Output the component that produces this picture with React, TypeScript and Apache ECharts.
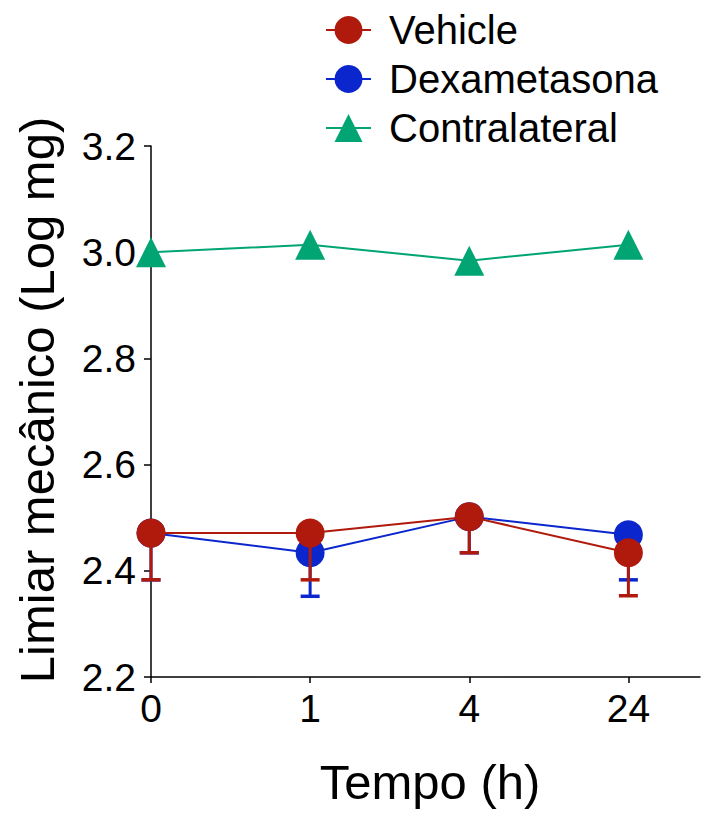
import React, { useEffect, useRef } from "react";
import * as echarts from "echarts";

// Time points (h) shown on the x axis
const timeLabels = ["0", "1", "4", "24"];

// Mechanical threshold, log mg (mean and lower end of error bar)
const vehicleMean = [2.471, 2.471, 2.502, 2.434];
const vehicleLower = [2.383, 2.383, 2.434, 2.353];
const dexaMean = [2.471, 2.434, 2.502, 2.468];
const dexaLower = [2.383, 2.352, 2.434, 2.383];
const contraMean = [3.0, 3.014, 2.984, 3.014];

const yTicks = [2.2, 2.4, 2.6, 2.8, 3.0, 3.2];

const RED = "#B01A0C";
const BLUE = "#0A26CC";
const GREEN = "#00A573";
const FONT = "'Liberation Sans', Arial, Helvetica, sans-serif";

const toPoints = (vals: number[]) => vals.map((v, i) => [i, v]);
const toBars = (mean: number[], lower: number[]) =>
  mean.map((m, i) => [i, m, lower[i]]);

function errorBarSeries(name: string, data: number[][], color: string, z: number) {
  return {
    name,
    type: "custom",
    z,
    silent: true,
    data,
    encode: { x: 0, y: [1, 2] },
    renderItem: (_params: any, api: any) => {
      const x = api.value(0);
      const top = api.coord([x, api.value(1)]);
      const low = api.coord([x, api.value(2)]);
      const hw = 9.5;
      return {
        type: "group",
        children: [
          {
            type: "line",
            shape: { x1: top[0], y1: top[1], x2: low[0], y2: low[1] },
            style: { stroke: color, lineWidth: 3 },
          },
          {
            type: "line",
            shape: { x1: low[0] - hw, y1: low[1], x2: low[0] + hw, y2: low[1] },
            style: { stroke: color, lineWidth: 3.5 },
          },
        ],
      };
    },
  };
}

export default function App() {
  const ref = useRef<HTMLDivElement>(null);

  useEffect(() => {
    if (!ref.current) return;
    const chart = echarts.init(ref.current, undefined, { renderer: "svg" });

    chart.setOption({
      animation: false,
      backgroundColor: "#ffffff",
      textStyle: { fontFamily: FONT },
      grid: {
        left: 151,
        top: 146,
        right: 1,
        bottom: 137,
        containLabel: false,
        outerBoundsMode: "none",
      },
      legend: {
        orient: "vertical",
        left: 320,
        top: 5,
        itemWidth: 45,
        itemHeight: 35,
        itemGap: 9,
        data: ["Vehicle", "Dexametasona", "Contralateral"],
        textStyle: {
          fontFamily: FONT,
          fontSize: 40,
          color: "#000",
          padding: [0, 0, 0, 13],
        },
      },
      xAxis: {
        type: "value",
        min: 0,
        max: 3.45,
        interval: 1,
        splitLine: { show: false },
        axisLine: { lineStyle: { color: "#000", width: 1.5 } },
        axisTick: {
          show: true,
          length: 6,
          customValues: [0, 1, 2, 3],
          lineStyle: { color: "#000", width: 1.5 },
        },
        axisLabel: {
          customValues: [0, 1, 2, 3],
          fontFamily: FONT,
          fontSize: 39,
          color: "#000",
          margin: 12,
          formatter: (v: number) => timeLabels[Math.round(v)] ?? "",
        },
      },
      yAxis: {
        type: "value",
        min: 2.2,
        max: 3.2,
        interval: 0.2,
        splitLine: { show: false },
        axisLine: { show: true, lineStyle: { color: "#000", width: 1.5 } },
        axisTick: {
          show: true,
          length: 7,
          customValues: yTicks,
          lineStyle: { color: "#000", width: 1.5 },
        },
        axisLabel: {
          customValues: yTicks,
          fontFamily: FONT,
          fontSize: 39,
          color: "#000",
          margin: 15,
          formatter: (v: number) => v.toFixed(1),
        },
      },
      graphic: [
        {
          type: "text",
          x: 37,
          y: 400,
          rotation: Math.PI / 2,
          style: {
            text: "Limiar mecânico (Log mg)",
            fontFamily: FONT,
            fontSize: 49,
            fill: "#000",
            textAlign: "center",
            textVerticalAlign: "middle",
          },
        },
        {
          type: "text",
          x: 430,
          y: 782,
          style: {
            text: "Tempo (h)",
            fontFamily: FONT,
            fontSize: 49,
            fill: "#000",
            textAlign: "center",
            textVerticalAlign: "middle",
          },
        },
      ],
      series: [
        errorBarSeries("Dexametasona SEM", toBars(dexaMean, dexaLower), BLUE, 1),
        {
          name: "Dexametasona",
          type: "line",
          z: 2,
          data: toPoints(dexaMean),
          symbol: "circle",
          symbolSize: 29,
          color: BLUE,
          itemStyle: { color: BLUE },
          lineStyle: { color: BLUE, width: 2 },
        },
        errorBarSeries("Vehicle SEM", toBars(vehicleMean, vehicleLower), RED, 3),
        {
          name: "Vehicle",
          type: "line",
          z: 4,
          data: toPoints(vehicleMean),
          symbol: "circle",
          symbolSize: 29,
          color: RED,
          itemStyle: { color: RED },
          lineStyle: { color: RED, width: 2 },
        },
        {
          name: "Contralateral",
          type: "line",
          z: 5,
          data: toPoints(contraMean),
          symbol: "triangle",
          symbolSize: 30,
          color: GREEN,
          itemStyle: { color: GREEN },
          lineStyle: { color: GREEN, width: 2 },
        },
      ],
    });

    return () => chart.dispose();
  }, []);

  return (
    <div
      ref={ref}
      style={{ position: "fixed", left: 0, top: 0, width: 701, height: 814 }}
    />
  );
}
